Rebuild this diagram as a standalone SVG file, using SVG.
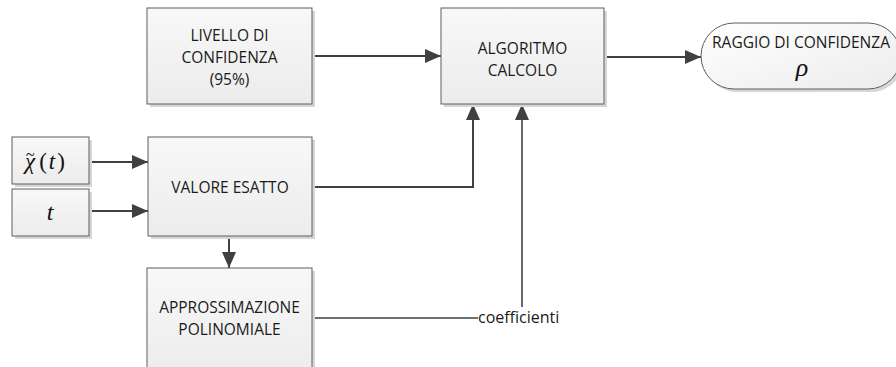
<svg xmlns="http://www.w3.org/2000/svg" width="896" height="367" viewBox="0 0 896 367">
  <defs>
    <linearGradient id="boxFill" x1="0" y1="0" x2="0" y2="1">
      <stop offset="0" stop-color="#f8f8f8"/>
      <stop offset="1" stop-color="#ececec"/>
    </linearGradient>
    <linearGradient id="termFill" x1="0" y1="0" x2="1" y2="1">
      <stop offset="0" stop-color="#ffffff"/>
      <stop offset="1" stop-color="#ececec"/>
    </linearGradient>
    <marker id="arrow" markerUnits="userSpaceOnUse" markerWidth="16" markerHeight="16" viewBox="0 0 16 16" refX="16" refY="8" orient="auto">
      <path d="M0,1 L16,8 L0,15 Z" fill="#404040"/>
    </marker>
    <style>
      .shadow { fill: #d6d6d6; }
      .box { fill: url(#boxFill); stroke: #5e5e5e; stroke-width: 1; }
      .term { fill: url(#termFill); stroke: #5e5e5e; stroke-width: 1; }
      .lbl { font-family: "Open Sans", "Liberation Sans", sans-serif; font-size: 15.5px; fill: #1a1a1a; text-anchor: middle; }
      .math { font-family: "Liberation Serif", "Times New Roman", serif; fill: #111; }
      .conn { fill: none; stroke: #404040; stroke-width: 2; }
      .thin { fill: none; stroke: #404040; stroke-width: 1.6; }
    </style>
  </defs>

  <!-- connectors -->
  <g id="connectors">
    <path class="conn" d="M312,56 H441" marker-end="url(#arrow)"/>
    <path class="conn" d="M604,57 H701" marker-end="url(#arrow)"/>
    <path class="conn" d="M89,162 H148" marker-end="url(#arrow)"/>
    <path class="conn" d="M89,211 H148" marker-end="url(#arrow)"/>
    <path class="conn" d="M312,187 H473 V104" marker-end="url(#arrow)"/>
    <path class="conn" d="M229,236 V268" marker-end="url(#arrow)"/>
    <path class="thin" d="M312,318 H478"/>
    <path class="thin" d="M522,307 V104" marker-end="url(#arrow)"/>
    <text class="lbl" x="478" y="323" style="text-anchor:start;font-size:16px">coefficienti</text>
  </g>

  <g id="livello">
    <rect class="shadow" x="150" y="11" width="165" height="96"/>
    <rect class="box" x="147" y="8" width="165" height="96"/>
    <text class="lbl" x="229.5" y="41">LIVELLO DI</text>
    <text class="lbl" x="229.5" y="63">CONFIDENZA</text>
    <text class="lbl" x="229.5" y="85">(95%)</text>
  </g>

  <g id="algoritmo">
    <rect class="shadow" x="444" y="11" width="163" height="96"/>
    <rect class="box" x="441" y="8" width="163" height="96"/>
    <text class="lbl" x="522.5" y="54">ALGORITMO</text>
    <text class="lbl" x="522.5" y="76">CALCOLO</text>
  </g>

  <g id="raggio">
    <rect class="shadow" x="704" y="26" width="200" height="66" rx="33"/>
    <rect class="term" x="701" y="23" width="200" height="66" rx="33"/>
    <text class="lbl" x="801" y="48">RAGGIO DI CONFIDENZA</text>
    <text class="math" x="802" y="76" style="font-size:26px;font-style:italic;text-anchor:middle">ρ</text>
  </g>

  <g id="chi">
    <rect class="shadow" x="15" y="140" width="77" height="47"/>
    <rect class="box" x="12" y="137" width="77" height="47"/>
    <!-- tilde accent set as its own text above the chi -->
    <text class="math" x="26" y="160" style="font-size:16px">~</text>
    <text class="math" x="25" y="169" style="font-size:23px"><tspan font-style="italic">χ</tspan><tspan dx="4">(</tspan><tspan dx="2" font-style="italic">t</tspan><tspan dx="2">)</tspan></text>
  </g>

  <g id="t">
    <rect class="shadow" x="15" y="192" width="77" height="47"/>
    <rect class="box" x="12" y="189" width="77" height="47"/>
    <text class="math" x="50" y="220" style="font-size:24px;font-style:italic;text-anchor:middle">t</text>
  </g>

  <g id="valore">
    <rect class="shadow" x="151" y="140" width="164" height="99"/>
    <rect class="box" x="148" y="137" width="164" height="99"/>
    <text class="lbl" x="230" y="193">VALORE ESATTO</text>
  </g>

  <g id="approssimazione">
    <rect class="shadow" x="150" y="271" width="165" height="110"/>
    <rect class="box" x="147" y="268" width="165" height="110"/>
    <text class="lbl" x="229.5" y="313">APPROSSIMAZIONE</text>
    <text class="lbl" x="229.5" y="335">POLINOMIALE</text>
  </g>
</svg>
